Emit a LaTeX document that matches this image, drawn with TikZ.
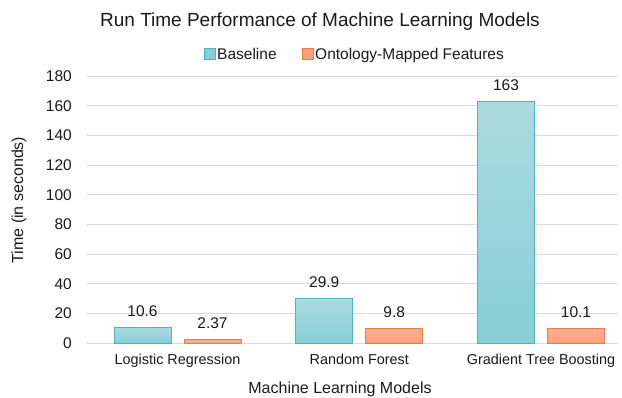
\documentclass[tikz,border=0pt]{standalone}
\usepackage{fontspec}
\setmainfont{Liberation Sans}
\usepackage{xcolor}
\definecolor{basetop}{HTML}{ABDBE1}
\definecolor{basebot}{HTML}{87CED6}
\definecolor{baseedge}{HTML}{4BB6C2}
\definecolor{ontotop}{HTML}{FFB093}
\definecolor{ontobot}{HTML}{FFA17E}
\definecolor{ontoedge}{HTML}{F27B3A}
\definecolor{gridgray}{HTML}{D9D9D9}
\definecolor{txt}{HTML}{1A1A1A}

\tikzset{
  gridline/.style={gridgray, line width=0.9pt},
  basebar/.style={draw=baseedge, line width=0.9pt, top color=basetop, bottom color=basebot},
  ontobar/.style={draw=ontoedge, line width=0.9pt, top color=ontotop, bottom color=ontobot},
  ticklabel/.style={anchor=east, inner sep=0pt, text=txt, font=\fontsize{15.5}{18}\selectfont},
  valuelabel/.style={anchor=base, inner sep=0pt, text=txt, font=\fontsize{15.5}{18}\selectfont},
  catlabel/.style={anchor=base, inner sep=0pt, text=txt, font=\fontsize{14.4}{17}\selectfont},
  axislabel/.style={inner sep=0pt, text=txt, font=\fontsize{16}{19}\selectfont}
}

\begin{document}
\begin{tikzpicture}[x=1pt, y=-1pt]
    \useasboundingbox (0,0) rectangle (622,397);
    % title and legend
    \node[axislabel, anchor=base, font=\fontsize{19}{22}\selectfont] (title) at (320,26.7) {Run Time Performance of Machine Learning Models};
    \draw[baseedge, fill=basebot, line width=0.8pt] (204.5,48.5) rectangle (215,59);
    \node[valuelabel, anchor=base west] (legbase) at (217,59) {Baseline};
    \draw[ontoedge, fill=ontobot, line width=0.8pt] (302.5,48.5) rectangle (313,59);
    \node[valuelabel, anchor=base west] (legonto) at (315,59) {Ontology-Mapped Features};
    % axis titles
    \node[axislabel, anchor=base] (xtitle) at (340,393.3) {Machine Learning Models};
    \node[axislabel, rotate=90] (ytitle) at (19,200) {Time (in seconds)};
    \begin{scope}[shift={(0,343)}, y=1.4833pt]
    \foreach \v in {0,20,...,180}{
      \draw[gridline] (87,\v) -- (618,\v);
      \node[ticklabel] (tick\v) at (72,\v) {\v};
    }
    \foreach \c/\b/\o/\name [count=\i] in {177.5/10.6/2.37/Logistic Regression, 359.25/29.9/9.8/Random Forest, 541/163/10.1/Gradient Tree Boosting}{
      \draw[basebar] ({\c-63.5},0) rectangle ({\c-6.5},\b);
      \draw[ontobar] ({\c+6.5},0) rectangle ({\c+63.5},\o);
      \node[valuelabel, yshift=11pt] (base\i) at ({\c-35},\b) {\b};
      \node[valuelabel, yshift=11pt] (onto\i) at ({\c+35},\o) {\o};
      \node[catlabel, yshift=-21.3pt] (cat\i) at (\c,0) {\name};
    }
    \end{scope}
\end{tikzpicture}
\end{document}
